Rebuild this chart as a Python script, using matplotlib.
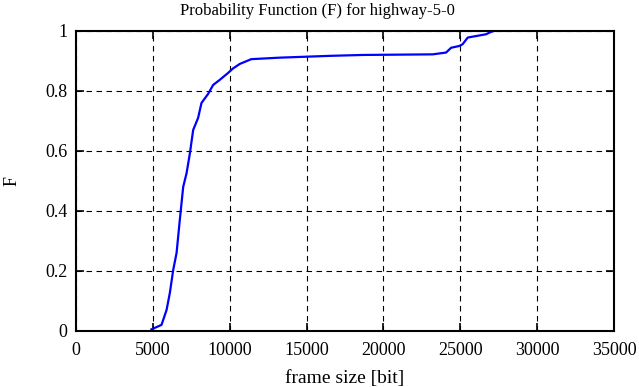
import matplotlib.pyplot as plt

frame_size = [4900, 5560, 5890, 6100, 6320, 6540, 6750, 6970, 7190, 7400,
              7620, 7940, 8160, 8590, 8920, 9350, 9890, 10210, 10650, 11400,
              13250, 16500, 18660, 23200, 24070, 24400, 24940, 25150, 25480,
              26020, 26670, 27000, 27200]
prob = [0.005, 0.02, 0.07, 0.126, 0.203, 0.26, 0.37, 0.48, 0.526, 0.59,
        0.67, 0.71, 0.76, 0.79, 0.82, 0.837, 0.86, 0.875, 0.89, 0.906,
        0.911, 0.917, 0.92, 0.922, 0.928, 0.944, 0.95, 0.956, 0.978,
        0.983, 0.989, 0.997, 1.0]

plt.rcParams['font.family'] = ['Liberation Serif', 'DejaVu Serif']

fig = plt.figure(figsize=(6.39, 3.87), dpi=100)
ax = fig.add_axes([0.119, 0.145, 0.842, 0.775])

ax.plot(frame_size, prob, color='#0000ff', linewidth=1.6)

ax.set_xlim(0, 35000)
ax.set_ylim(0, 1)
ax.set_xticks(range(0, 35001, 5000))
ax.set_yticks([0, 0.2, 0.4, 0.6, 0.8, 1])
ax.set_yticklabels(['0', '0.2', '0.4', '0.6', '0.8', '1'])
ax.grid(True, color='black', linestyle=(0, (5, 4)), linewidth=0.8)
ax.tick_params(direction='in', top=True, right=True, length=6, width=1.2,
               labelsize=13, pad=6)
ax.tick_params(axis='x', pad=8)
for s in ax.spines.values():
    s.set_linewidth(1.5)

# title is centred on the whole figure, not on the axes
fig.text(0.497, 0.993, 'Probability Function (F) for highway-5-0',
         fontsize=12, ha='center', va='top')
ax.set_xlabel('frame size [bit]', fontsize=14, labelpad=8)
ax.set_ylabel('F', fontsize=13, labelpad=18)

fig.savefig('out.png', dpi=100)
